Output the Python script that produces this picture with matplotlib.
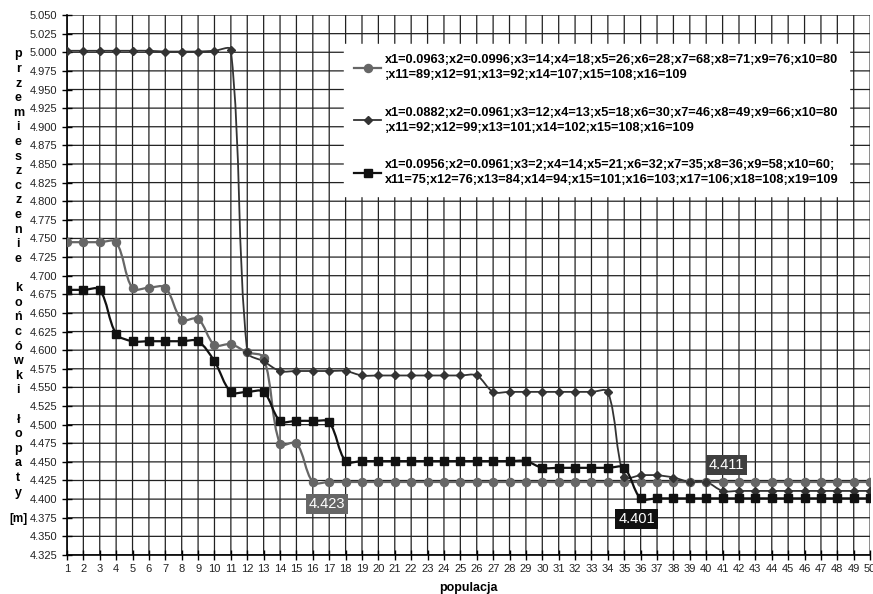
import numpy as np
import matplotlib
matplotlib.use('Agg')
from matplotlib import pyplot as plt
from matplotlib.path import Path
from matplotlib.patches import PathPatch

plt.rcParams['font.family'] = ['Liberation Sans', 'DejaVu Sans']

# data
populacja = list(range(1, 51))

seria1 = [4.745, 4.745, 4.745, 4.745, 4.683, 4.684, 4.684, 4.641, 4.642, 4.607,
          4.608, 4.597, 4.590, 4.474, 4.475, 4.423, 4.423, 4.423, 4.423, 4.423,
          4.423, 4.423, 4.423, 4.423, 4.423, 4.423, 4.423, 4.423, 4.423, 4.423,
          4.423, 4.423, 4.423, 4.423, 4.423, 4.423, 4.423, 4.423, 4.423, 4.423,
          4.423, 4.423, 4.423, 4.423, 4.423, 4.423, 4.423, 4.423, 4.423, 4.423]

seria2 = [5.002, 5.002, 5.002, 5.002, 5.002, 5.002, 5.001, 5.001, 5.001, 5.002,
          5.003, 4.598, 4.585, 4.572, 4.572, 4.572, 4.572, 4.572, 4.566, 4.566,
          4.566, 4.566, 4.566, 4.566, 4.566, 4.566, 4.544, 4.544, 4.544, 4.544,
          4.544, 4.544, 4.544, 4.544, 4.430, 4.432, 4.432, 4.429, 4.423, 4.423,
          4.411, 4.411, 4.411, 4.411, 4.411, 4.411, 4.411, 4.411, 4.411, 4.411]

seria3 = [4.681, 4.681, 4.681, 4.622, 4.612, 4.612, 4.612, 4.612, 4.612, 4.585,
          4.544, 4.544, 4.544, 4.505, 4.505, 4.505, 4.503, 4.451, 4.451, 4.451,
          4.451, 4.451, 4.451, 4.451, 4.451, 4.451, 4.451, 4.451, 4.451, 4.442,
          4.442, 4.442, 4.442, 4.442, 4.442, 4.401, 4.401, 4.401, 4.401, 4.401,
          4.401, 4.401, 4.401, 4.401, 4.401, 4.401, 4.401, 4.401, 4.401, 4.401]

etykiety = ['x1=0.0963;x2=0.0996;x3=14;x4=18;x5=26;x6=28;x7=68;x8=71;x9=76;x10=80\n;x11=89;x12=91;x13=92;x14=107;x15=108;x16=109',
            'x1=0.0882;x2=0.0961;x3=12;x4=13;x5=18;x6=30;x7=46;x8=49;x9=66;x10=80\n;x11=92;x12=99;x13=101;x14=102;x15=108;x16=109',
            'x1=0.0956;x2=0.0961;x3=2;x4=14;x5=21;x6=32;x7=35;x8=36;x9=58;x10=60;\nx11=75;x12=76;x13=84;x14=94;x15=101;x16=103;x17=106;x18=108;x19=109']

y_ticks = np.arange(4.325, 5.0501, 0.025)


def smooth_line(ax, x, y, color, lw):
    # Excel-like smoothed line: cubic bezier, tangents weighted by segment length (in pixels)
    sx, sy = 16.35, 740.0
    P = np.column_stack([np.asarray(x, float) * sx, np.asarray(y, float) * sy])
    n = len(P)
    tang = []
    for i in range(n):
        a, b = P[max(i - 1, 0)], P[min(i + 1, n - 1)]
        tang.append(b - a)
    seg = np.hypot(*np.diff(P, axis=0).T)
    verts = [P[0]]
    codes = [Path.MOVETO]
    for i in range(n - 1):
        dprev = seg[i - 1] if i > 0 else seg[i]
        dnext = seg[i + 1] if i < n - 2 else seg[i]
        c1 = P[i] + tang[i] * seg[i] / (dprev + seg[i]) / 3
        c2 = P[i + 1] - tang[i + 1] * seg[i] / (seg[i] + dnext) / 3
        verts += [c1, c2, P[i + 1]]
        codes += [Path.CURVE4] * 3
    verts = np.array(verts) / [sx, sy]
    ax.add_patch(PathPatch(Path(verts, codes), fill=False, edgecolor=color, lw=lw, zorder=3))


f = plt.figure(figsize=(8.73, 5.94), dpi=100)
ax = f.add_axes([0.0767, 0.0657, 0.92, 0.909])

styles = [('#666666', 'o', 5.8, 1.6), ('#333333', 'D', 4.2, 1.3), ('#111111', 's', 5.6, 1.6)]
for seria, (c, m, ms, lw), lab in zip([seria1, seria2, seria3], styles, etykiety):
    smooth_line(ax, populacja, seria, c, lw)
    ax.plot(populacja, seria, ls='none', marker=m, ms=ms, color=c, zorder=4)
    ax.plot([], [], '-', marker=m, ms=ms, color=c, lw=lw, label=lab)

ax.set_xlim(1, 50)
ax.set_ylim(4.325, 5.050)
ax.set_xticks(populacja)
ax.set_yticks(y_ticks)
ax.set_yticklabels(['%.3f' % v for v in y_ticks])
ax.tick_params(direction='inout', length=7, width=1, labelsize=8, colors='black', labelcolor='#222222')
ax.tick_params(axis='x', pad=3)
ax.grid(True, color='#222222', lw=0.9, snap=False)
ax.set_axisbelow(True)
for s in ['top', 'right']:
    ax.spines[s].set_visible(False)
for s in ['left', 'bottom']:
    ax.spines[s].set_linewidth(1.2)

ax.set_xlabel('populacja', fontsize=9, fontweight='bold', labelpad=6)

ylab = 'przemieszczenie końcówki łopaty'
f.text(0.021, 0.5396, '\n'.join(list(ylab)), ha='center', va='center', fontsize=9,
       fontweight='bold', linespacing=1.29)
f.text(0.021, 0.126, '[m]', ha='center', va='center', fontsize=8.5, fontweight='bold')

leg = ax.legend(loc='upper left', bbox_to_anchor=(0.345, 0.946), frameon=True, fancybox=False,
                framealpha=1, edgecolor='white', facecolor='white', borderaxespad=0,
                prop={'weight': 'bold', 'size': 9.2}, handlelength=2.1, handletextpad=0.3,
                labelspacing=2.0, borderpad=0.8)
for t in leg.get_texts():
    t.set_linespacing(1.32)

# value labels
ax.annotate('%.3f' % seria1[15], xy=(16, seria1[15]), xytext=(14, -22), textcoords='offset pixels',
            ha='center', va='center', color='white', fontsize=10.5, zorder=6,
            bbox=dict(boxstyle='square,pad=0.2', fc='#666666', ec='none'))
ax.annotate('%.3f' % seria3[35], xy=(36, seria3[35]), xytext=(-4, -21), textcoords='offset pixels',
            ha='center', va='center', color='white', fontsize=10.5, zorder=6,
            bbox=dict(boxstyle='square,pad=0.2', fc='#111111', ec='none'))
ax.annotate('%.3f' % seria2[40], xy=(41, seria2[40]), xytext=(4, 26), textcoords='offset pixels',
            ha='center', va='center', color='white', fontsize=10.5, zorder=6,
            bbox=dict(boxstyle='square,pad=0.2', fc='#3f3f3f', ec='none'))

plt.savefig('out.png', dpi=100)
